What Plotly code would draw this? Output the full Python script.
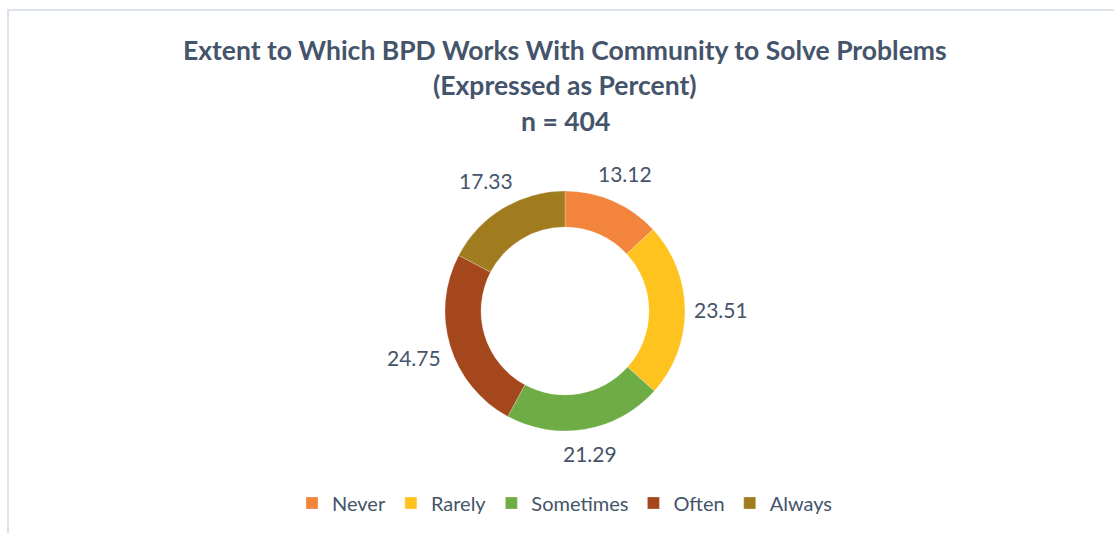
import math
import plotly.graph_objects as go

categories = ["Never", "Rarely", "Sometimes", "Often", "Always"]
values = [13.12, 23.51, 21.29, 24.75, 17.33]
colors = ["#F2843C", "#FFC31F", "#6EAD46", "#A4471C", "#A07C1E"]

title_lines = ["Extent to Which BPD Works With Community to Solve Problems",
               "(Expressed as Percent)", "n = 404"]

W, H = 1114, 533
cx, cy, R = 565, 311, 120
TXT = "#44546A"
FONT = "Lato, Open Sans, sans-serif"

fig = go.Figure()
fig.add_trace(go.Pie(
    labels=categories, values=values, sort=False, direction="clockwise",
    rotation=0, hole=0.70, textinfo="none", hoverinfo="label+value",
    marker=dict(colors=colors, line=dict(color="rgba(255,255,255,0.5)", width=0.5)),
    domain=dict(x=[(cx - R) / W, (cx + R) / W], y=[(H - cy - R) / H, (H - cy + R) / H]),
))

annotations = []
for i, line in enumerate(title_lines):
    annotations.append(dict(text="<b>%s</b>" % line, x=cx / W, y=1 - (50 + 35.5 * i) / H,
                            xref="paper", yref="paper", showarrow=False,
                            xanchor="center", yanchor="middle",
                            font=dict(family=FONT, size=26.5, color=TXT)))

# data labels at each slice's mid-angle, just outside the ring
total = sum(values)
cum = 0
tw, th = 54, 22
for v in values:
    mid = (cum + v / 2) / total * 2 * math.pi
    cum += v
    s, c = math.sin(mid), math.cos(mid)
    r = R + 9 + abs(s) * tw / 2 + abs(c) * th / 2
    px, py = cx + r * s, cy - r * c
    annotations.append(dict(text="%.2f" % v, x=px / W, y=1 - py / H, xref="paper", yref="paper",
                            showarrow=False, xanchor="center", yanchor="middle",
                            font=dict(family=FONT, size=21, color=TXT)))

fig.update_layout(
    width=W, height=H, margin=dict(l=0, r=0, t=0, b=0),
    paper_bgcolor="white", plot_bgcolor="white",
    annotations=annotations,
    showlegend=True,
    legend=dict(orientation="h", x=cx / W, xanchor="center", y=1 - 503 / H, yanchor="middle",
                font=dict(family=FONT, size=20, color=TXT), itemwidth=30,
                traceorder="normal"),
    shapes=[dict(type="rect", xref="paper", yref="paper", x0=8 / W, x1=1.02, y0=-0.05, y1=1 - 10 / H,
                 line=dict(color="#DDE3EA", width=2), fillcolor="rgba(0,0,0,0)", layer="below")],
)

fig.write_html("out.html")
